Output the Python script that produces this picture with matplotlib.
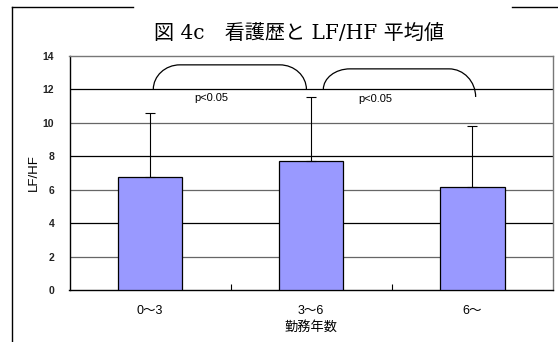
import matplotlib.pyplot as plt
from matplotlib.lines import Line2D
from matplotlib.path import Path
from matplotlib.patches import PathPatch

plt.rcParams['font.family'] = ['Liberation Sans', 'Noto Sans CJK JP']

# 勤務年数ごとの LF/HF 平均値と標準偏差
categories = ['0～3', '3～6', '6～']
means = [6.78, 7.74, 6.15]
sds = [3.81, 3.81, 3.66]
yticks = [0, 2, 4, 6, 8, 10, 12, 14]

# 有意差の括弧 (左端, 右端, 上端, 左足の高さ, 右足の高さ) と注記
brackets = [(0.02, 0.97, 13.47, 12.0, 12.0), (1.075, 2.02, 13.23, 12.0, 11.55)]
sig_labels = ['p<0.05', 'p<0.05']
sig_pos = [(0.38, 11.5), (1.40, 11.4)]

W, H = 558, 342
fig = plt.figure(figsize=(W / 100, H / 100), dpi=100)
ax = fig.add_axes([69.5 / W, (H - 290) / H, 483.5 / W, (290 - 56) / H])

x = list(range(len(categories)))
ax.bar(x, means, width=0.4, color='#9999FF', edgecolor='black', linewidth=0.9, zorder=3)
ax.errorbar(x, means, yerr=[[0] * len(sds), sds], fmt='none', ecolor='black',
            elinewidth=0.8, capsize=3.5, capthick=0.8, zorder=4)

ax.set_xlim(-0.5, 2.5)
ax.set_ylim(0, 14)
ax.set_yticks(yticks)
ax.set_yticklabels([str(v) for v in yticks], fontsize=7.5, fontweight='bold', color='#222222')
ax.set_xticks(x)
ax.set_xticklabels(categories, fontsize=9)
ax.set_xticks([0.5, 1.5], minor=True)
ax.tick_params(axis='y', length=0, pad=11)
ax.tick_params(axis='x', which='major', length=0, pad=11)
ax.tick_params(axis='x', which='minor', direction='in', length=4, width=0.8)

# 目盛線（交互に黒と灰色）
for v in yticks[1:-1]:
    ax.axhline(v, color='black' if v % 4 == 0 else '#666666', lw=0.9, zorder=1)

for side in ['left', 'bottom']:
    ax.spines[side].set_color('black')
    ax.spines[side].set_linewidth(1.0)
for side in ['top', 'right']:
    ax.spines[side].set_color('#777777')
    ax.spines[side].set_linewidth(1.0)

ax.set_ylabel('LF/HF', fontsize=9.5, labelpad=2)
ax.set_xlabel('勤務年数', fontsize=9.5, labelpad=3)

# 有意差の括弧（角を丸めた形）
k = 0.55
rx = 0.165
for x0, x1, top, yl, yr in brackets:
    verts = [(x0, yl), (x0, yl + k * (top - yl)), (x0 + rx * (1 - k), top), (x0 + rx, top),
             (x1 - rx, top),
             (x1 - rx * (1 - k), top), (x1, yr + k * (top - yr)), (x1, yr)]
    codes = [Path.MOVETO, Path.CURVE4, Path.CURVE4, Path.CURVE4,
             Path.LINETO,
             Path.CURVE4, Path.CURVE4, Path.CURVE4]
    ax.add_patch(PathPatch(Path(verts, codes), fill=False, lw=0.9,
                           edgecolor='black', zorder=5))
for (tx, ty), lab in zip(sig_pos, sig_labels):
    ax.text(tx, ty, lab, fontsize=8, ha='center', va='center', zorder=6)

# タイトルと外枠
fig.text(298.5 / W, 1 - 33 / H, '図 4c　看護歴と LF/HF 平均値', fontsize=14.5,
         family=['DejaVu Serif', 'Noto Sans CJK JP'], ha='center', va='center')
fig.add_artist(Line2D([12 / W, 12 / W], [0, 1 - 7 / H], color='black', lw=1.0))
fig.add_artist(Line2D([12 / W, 133 / W], [1 - 7 / H, 1 - 7 / H], color='black', lw=1.0))
fig.add_artist(Line2D([512 / W, 1], [1 - 7 / H, 1 - 7 / H], color='black', lw=1.0))

fig.savefig('out.png', dpi=100)
